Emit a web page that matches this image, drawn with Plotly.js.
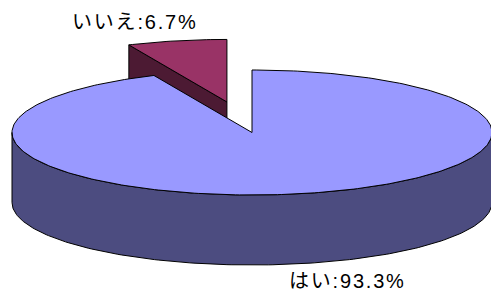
<!DOCTYPE html>
<html>
<head>
<meta charset="utf-8">
<script src="https://cdn.plot.ly/plotly-3.0.1.min.js"></script>
<style>html,body{margin:0;padding:0;background:#fff;}#chart{width:491px;height:292px;}</style>
</head>
<body>
<div id="chart"></div>
<script>
// ---- data ----
const labels = ['はい', 'いいえ'];
const values = [93.3, 6.7];
const explode = [0, 0.5];
const topColors = ['#9999FF', '#993366'];
const sideColors = ['#4C4C80', '#4C1A33'];

// ---- projection (layout constants) ----
const W = 491, H = 292;
const cx = 252, cy = 132.5, a = 240, b = 62.5, depth = 70;
function pt(theta, r, off, z) {
  const t = theta * Math.PI / 180;
  return [cx + off[0] + a * r * Math.sin(t), cy + off[1] - b * r * Math.cos(t) + z];
}
function arc(t0, t1, off, z) {
  const pts = [];
  const n = Math.max(2, Math.ceil(Math.abs(t1 - t0)));
  for (let i = 0; i <= n; i++) pts.push(pt(t0 + (t1 - t0) * i / n, 1, off, z));
  return pts;
}
function poly(pts, fill, name) {
  const xs = pts.map(p => p[0]), ys = pts.map(p => p[1]);
  xs.push(xs[0]); ys.push(ys[0]);
  return {type: 'scatter', mode: 'lines', x: xs, y: ys, fill: 'toself', fillcolor: fill,
          line: {color: '#000000', width: 1}, hoverinfo: 'skip', showlegend: false, name: name};
}

const total = values.reduce((s, v) => s + v, 0);
const slices = [];
let acc = 0;
values.forEach((v, i) => {
  const ts = acc / total * 360, te = (acc + v) / total * 360;
  acc += v;
  const mid = (ts + te) / 2 * Math.PI / 180;
  const off = [a * explode[i] * Math.sin(mid), -b * explode[i] * Math.cos(mid)];
  slices.push({i, ts, te, off, depthKey: Math.cos(mid)});
});
// paint back-to-front
slices.sort((p, q) => q.depthKey - p.depthKey);

const traces = [];
slices.forEach(s => {
  const i = s.i, o = s.off;
  const radial = th => [pt(th, 0, o, 0), pt(th, 1, o, 0), pt(th, 1, o, depth), pt(th, 0, o, depth)];
  if (Math.sin(s.ts * Math.PI / 180) < -1e-6) traces.push(poly(radial(s.ts), sideColors[i], labels[i]));
  if (Math.sin(s.te * Math.PI / 180) > 1e-6) traces.push(poly(radial(s.te), sideColors[i], labels[i]));
  const r0 = Math.max(s.ts, 90), r1 = Math.min(s.te, 270);
  if (r1 > r0) {
    const topA = arc(r0, r1, o, 0), botA = arc(r1, r0, o, depth);
    traces.push(poly(topA.concat(botA), sideColors[i], labels[i]));
  }
  traces.push(poly([pt(0, 0, o, 0)].concat(arc(s.ts, s.te, o, 0)), topColors[i], labels[i]));
});

const font = {family: 'Liberation Sans, Arial, Noto Sans CJK JP, sans-serif', size: 20, color: '#000000'};
const annPos = [[287, 281], [70, 22]];
const annotations = labels.map((l, i) => ({
  text: '<span style="letter-spacing:1.8px">' + l + ':' + values[i].toFixed(1) + '%</span>',
  x: annPos[i][0], y: annPos[i][1],
  xref: 'x', yref: 'y', xanchor: 'left', yanchor: 'middle', showarrow: false, font: font
}));

Plotly.newPlot('chart', traces, {
  width: W, height: H, margin: {l: 0, r: 0, t: 0, b: 0},
  paper_bgcolor: '#ffffff', plot_bgcolor: '#ffffff',
  xaxis: {range: [0, W], visible: false, fixedrange: true},
  yaxis: {range: [H, 0], visible: false, fixedrange: true},
  annotations: annotations, showlegend: false
}, {staticPlot: true});
</script>
</body>
</html>
